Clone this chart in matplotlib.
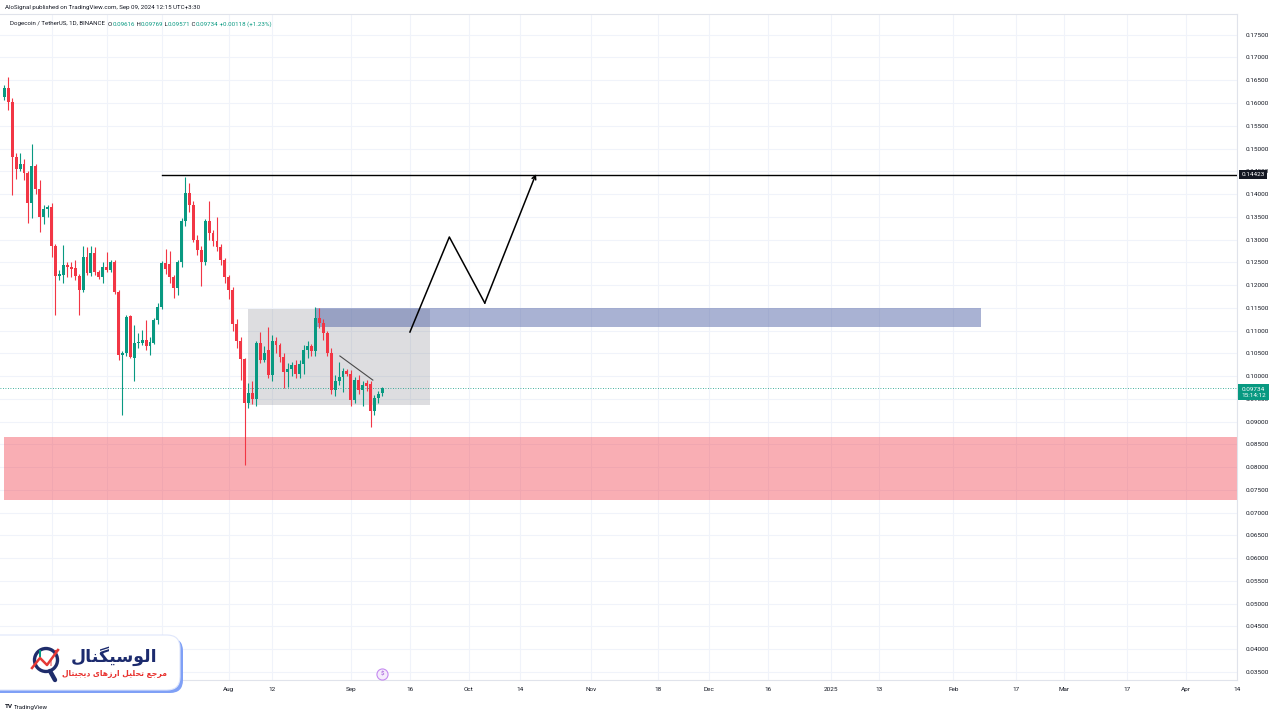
import matplotlib
matplotlib.use('Agg')
import matplotlib.pyplot as plt
import matplotlib.dates as mdates
import matplotlib.transforms as mtransforms
from matplotlib.patches import Rectangle, FancyBboxPatch, Circle
import numpy as np
import pandas as pd

plt.rcParams['font.family'] = ['Roboto', 'DejaVu Sans']

# DOGE/USDT daily candles
dates = pd.date_range('2024-06-05', periods=97)
opens = [0.1614, 0.1632, 0.1602, 0.1481, 0.1456, 0.1466, 0.1446, 0.1380, 0.1462, 0.1410,
         0.1349, 0.1366, 0.1371, 0.1286, 0.1220, 0.1222, 0.1244, 0.1240, 0.1237, 0.1220,
         0.1189, 0.1261, 0.1227, 0.1270, 0.1229, 0.1217, 0.1240, 0.1233, 0.1251, 0.1184,
         0.1046, 0.1050, 0.1132, 0.1039, 0.1073, 0.1073, 0.1079, 0.1065, 0.1073, 0.1122,
         0.1152, 0.1248, 0.1246, 0.1217, 0.1193, 0.1251, 0.1341, 0.1402, 0.1376, 0.1300,
         0.1277, 0.1251, 0.1341, 0.1314, 0.1297, 0.1283, 0.1254, 0.1217, 0.1188, 0.1114,
         0.1077, 0.1037, 0.0940, 0.0962, 0.0950, 0.1073, 0.1035, 0.1057, 0.1002, 0.1078,
         0.1068, 0.1042, 0.1008, 0.1015, 0.1024, 0.1005, 0.1026, 0.1057, 0.1066, 0.1055,
         0.1127, 0.1117, 0.1094, 0.1050, 0.0969, 0.0990, 0.0998, 0.1010, 0.1005, 0.0947,
         0.0991, 0.0969, 0.0984, 0.0982, 0.0922, 0.0952, 0.09616]
highs = [0.1640, 0.1658, 0.1610, 0.1490, 0.1491, 0.1478, 0.1450, 0.1510, 0.1465, 0.1431,
         0.1376, 0.1375, 0.1381, 0.1290, 0.1232, 0.1288, 0.1250, 0.1250, 0.1254, 0.1224,
         0.1285, 0.1284, 0.1285, 0.1284, 0.1232, 0.1250, 0.1273, 0.1255, 0.1256, 0.1188,
         0.1055, 0.1135, 0.1135, 0.1112, 0.1094, 0.1101, 0.1122, 0.1085, 0.1128, 0.1160,
         0.1252, 0.1279, 0.1275, 0.1222, 0.1256, 0.1348, 0.1438, 0.1425, 0.1385, 0.1310,
         0.1285, 0.1345, 0.1385, 0.1320, 0.1349, 0.1290, 0.1260, 0.1222, 0.1195, 0.1125,
         0.1085, 0.1040, 0.0985, 0.0990, 0.1078, 0.1097, 0.1066, 0.1108, 0.1090, 0.1085,
         0.1072, 0.1050, 0.1028, 0.1030, 0.1035, 0.1035, 0.1068, 0.1078, 0.1070, 0.1152,
         0.1150, 0.1125, 0.1100, 0.1062, 0.1002, 0.1030, 0.1018, 0.1015, 0.1013, 0.0998,
         0.1002, 0.0988, 0.0992, 0.0988, 0.0958, 0.0966, 0.09769]
lows = [0.1606, 0.1585, 0.1398, 0.1434, 0.1450, 0.1431, 0.1336, 0.1347, 0.1400, 0.1317,
        0.1334, 0.1350, 0.1262, 0.1134, 0.1212, 0.1205, 0.1218, 0.1217, 0.1212, 0.1135,
        0.1185, 0.1222, 0.1220, 0.1222, 0.1213, 0.1204, 0.1228, 0.1228, 0.1180, 0.1036,
        0.0914, 0.1045, 0.1040, 0.0988, 0.1062, 0.1068, 0.1058, 0.1046, 0.1070, 0.1115,
        0.1148, 0.1225, 0.1205, 0.1171, 0.1178, 0.1240, 0.1330, 0.1360, 0.1295, 0.1265,
        0.1198, 0.1245, 0.1300, 0.1285, 0.1275, 0.1245, 0.1205, 0.1170, 0.1100, 0.1062,
        0.0991, 0.0804, 0.0930, 0.0938, 0.0934, 0.1028, 0.1030, 0.0995, 0.0990, 0.1050,
        0.1030, 0.0973, 0.0975, 0.1000, 0.0995, 0.0995, 0.1005, 0.1040, 0.1045, 0.1045,
        0.1105, 0.1080, 0.1045, 0.0960, 0.0955, 0.0980, 0.0965, 0.1000, 0.0935, 0.0940,
        0.0960, 0.0935, 0.0968, 0.0889, 0.0915, 0.0940, 0.09571]
closes = [0.1632, 0.1603, 0.1481, 0.1456, 0.1466, 0.1446, 0.1380, 0.1462, 0.1410, 0.1349,
          0.1366, 0.1371, 0.1286, 0.1220, 0.1224, 0.1244, 0.1239, 0.1236, 0.1220, 0.1189,
          0.1261, 0.1227, 0.1270, 0.1228, 0.1217, 0.1240, 0.1233, 0.1251, 0.1184, 0.1046,
          0.1050, 0.1130, 0.1042, 0.1073, 0.1075, 0.1079, 0.1065, 0.1075, 0.1122, 0.1152,
          0.1248, 0.1235, 0.1217, 0.1194, 0.1251, 0.1341, 0.1402, 0.1376, 0.1300, 0.1277,
          0.1251, 0.1341, 0.1314, 0.1297, 0.1283, 0.1254, 0.1217, 0.1188, 0.1114, 0.1077,
          0.1037, 0.0940, 0.0962, 0.0950, 0.1073, 0.1035, 0.1051, 0.1002, 0.1078, 0.1068,
          0.1042, 0.1008, 0.1015, 0.1024, 0.1005, 0.1026, 0.1057, 0.1066, 0.1055, 0.1127,
          0.1117, 0.1094, 0.1050, 0.0969, 0.0990, 0.0998, 0.1010, 0.1005, 0.0947, 0.0991,
          0.0969, 0.0980, 0.0978, 0.0922, 0.0952, 0.0961, 0.09734]

price_ticks = np.round(np.arange(0.035, 0.17501, 0.005), 3)
tick_dates = ['2024-06-17', '2024-07-01', '2024-07-15', '2024-08-01', '2024-08-12', '2024-09-01',
              '2024-09-16', '2024-10-01', '2024-10-14', '2024-11-01', '2024-11-18', '2024-12-01',
              '2024-12-16', '2025-01-01', '2025-01-13', '2025-02-01', '2025-02-17', '2025-03-01',
              '2025-03-17', '2025-04-01', '2025-04-14']
tick_labels = ['17', 'Jul', '15', 'Aug', '12', 'Sep', '16', 'Oct', '14', 'Nov', '18', 'Dec',
               '16', '2025', '13', 'Feb', '17', 'Mar', '17', 'Apr', '14']

# drawings
resistance = 0.14423
resistance_start = '2024-07-15'
last_price = 0.09734
support_zone = (0.0727, 0.0866)
supply_zone = ('2024-08-23', '2025-02-08', 0.11077, 0.11495)
range_box = ('2024-08-06', '2024-09-21', 0.0936, 0.1147)
trend_dates = ['2024-08-29 05:00', '2024-09-06 14:00']
trend_prices = [0.1044, 0.0991]
path_dates = ['2024-09-16', '2024-09-26', '2024-10-05', '2024-10-18']
path_prices = [0.10967, 0.13055, 0.11604, 0.14440]

green = '#089981'
red = '#f23645'
text_col = '#131722'
grid_col = '#f0f3fa'

fig = plt.figure(figsize=(12.8, 7.2), dpi=100)
ax = fig.add_axes([0, 40 / 720, 1237 / 1280, 666 / 720])

x = mdates.date2num(dates)
x0 = x[0]
ax.set_xlim(x0 - 1.09, x0 + 312.9)
ax.set_ylim(0.03319, 0.17956)

ax.set_yticks(price_ticks)
ax.set_yticklabels(['%.5f' % p for p in price_ticks])
ax.yaxis.tick_right()
ax.set_xticks(mdates.date2num(pd.to_datetime(tick_dates)))
ax.set_xticklabels(tick_labels)
ax.tick_params(axis='y', length=0, pad=6, labelsize=4.6, labelcolor=text_col)
ax.tick_params(axis='x', length=0, pad=5, labelsize=4.6, labelcolor=text_col)
ax.grid(color=grid_col, lw=0.8)
ax.set_axisbelow(True)
for side, spine in ax.spines.items():
    spine.set_color('#e0e3eb')
    spine.set_linewidth(0.8)
ax.spines['left'].set_visible(False)

# zones
ax.add_patch(Rectangle((x0 - 0.2, support_zone[0]), 400, support_zone[1] - support_zone[0],
                       fc=red, alpha=0.4, ec='none', zorder=1))
rb0, rb1 = mdates.date2num(pd.to_datetime(range_box[:2]))
ax.add_patch(Rectangle((rb0, range_box[2]), rb1 - rb0, range_box[3] - range_box[2],
                       fc='#787b86', alpha=0.25, ec='none', zorder=1))
sz0, sz1 = mdates.date2num(pd.to_datetime(supply_zone[:2]))
ax.add_patch(Rectangle((sz0, supply_zone[2]), sz1 - sz0, supply_zone[3] - supply_zone[2],
                       fc='#5567a8', alpha=0.5, ec='none', zorder=1.5))

# candles
o = np.array(opens)
c = np.array(closes)
colors = [green if cc >= oo else red for oo, cc in zip(o, c)]
ax.vlines(x, lows, highs, colors=colors, lw=0.8, zorder=3)
body = np.maximum(np.abs(c - o), 0.00012)
ax.bar(x, body, bottom=np.minimum(o, c), width=0.74, color=colors, zorder=4)

# lines
ax.plot([mdates.date2num(pd.Timestamp(resistance_start)), x0 + 400], [resistance, resistance],
        color='black', lw=1.0, zorder=5)
ax.axhline(last_price, color=green, lw=0.6, ls=(0, (1, 2)), zorder=2)
tx = mdates.date2num(pd.to_datetime(trend_dates))
ax.plot(tx, trend_prices, color='#4a4a4a', lw=0.8, zorder=5)
px = mdates.date2num(pd.to_datetime(path_dates))
ax.plot(px[:3], path_prices[:3], color='black', lw=1.1, zorder=5)
ax.annotate('', xy=(px[3], path_prices[3]), xytext=(px[2], path_prices[2]),
            arrowprops=dict(arrowstyle='->', lw=1.1, color='black', shrinkA=0, shrinkB=0,
                            mutation_scale=7), zorder=5)

# price labels on the axis
blend = mtransforms.blended_transform_factory(ax.transAxes, ax.transData)
ax.text(1.0035, resistance, '%.5f' % resistance, transform=blend, fontsize=4.6, color='white',
        va='center', ha='left', clip_on=False, zorder=6,
        bbox=dict(boxstyle='square,pad=0.3', fc=text_col, ec='none'))
ax.text(1.0035, last_price - 0.0009, '%.5f\n15:14:12' % last_price, transform=blend, fontsize=4.6,
        color='white', va='center', ha='left', clip_on=False, zorder=6, linespacing=1.15,
        bbox=dict(boxstyle='square,pad=0.45', fc=green, ec='none'))

# event marker near the time axis
eblend = mtransforms.blended_transform_factory(ax.transData, ax.transAxes)
ax.plot([x[-1]], [0.009], transform=eblend, marker='o', ms=8, mfc='#f5ecfc', mec='#c58af0',
        mew=0.8, clip_on=False, zorder=6)
ax.text(x[-1], 0.009, '$', transform=eblend, fontsize=4.5, color='#9c4fd6', ha='center',
        va='center', clip_on=False, zorder=7)

# overlay in pixel coordinates
ov = fig.add_axes([0, 0, 1, 1], zorder=10)
ov.set_xlim(0, 1280)
ov.set_ylim(720, 0)
ov.axis('off')
ov.patch.set_alpha(0)

ov.text(5, 8, 'AloSignal published on TradingView.com, Sep 09, 2024 12:15 UTC+3:30',
        fontsize=4.4, color=text_col, va='center', ha='left')
renderer = fig.canvas.get_renderer()
pieces = [('Dogecoin / TetherUS, 1D, BINANCE  ', text_col), ('O', text_col), ('0.09616', green),
          (' H', text_col), ('0.09769', green), (' L', text_col), ('0.09571', green),
          (' C', text_col), ('0.09734', green), (' +0.00118 (+1.23%)', green)]
xpos = 10
for s, col in pieces:
    t = ov.text(xpos, 24, s, fontsize=4.4, color=col, va='center', ha='left')
    xpos += t.get_window_extent(renderer).width

ov.text(5, 707, 'TV', fontsize=4.6, fontweight='bold', color=text_col, va='center', ha='left')
ov.text(14, 707, 'TradingView', fontsize=4.4, color=text_col, va='center', ha='left')

# logo box
ov.add_patch(FancyBboxPatch((-20, 638), 203, 55, boxstyle='round,pad=0,rounding_size=13',
                            fc='#7fa0f6', ec='none'))
ov.add_patch(FancyBboxPatch((-22, 635), 202, 55, boxstyle='round,pad=0,rounding_size=13',
                            fc='white', ec='#dfe6fb', lw=0.8))
ov.add_patch(Circle((46, 660), 11.5, fill=False, ec='#1f2d6b', lw=2.4))
ov.plot([50, 55], [671, 680], color='#1f2d6b', lw=3.2, solid_capstyle='round')
ov.add_patch(Rectangle((39, 650), 2.2, 7, fc=green, ec='none'))
ov.add_patch(Rectangle((50, 660), 2.2, 6, fc='#f4a0a0', ec='none'))
ov.annotate('', xy=(60, 648), xytext=(32, 668),
            arrowprops=dict(arrowstyle='-|>', color='#e53935', lw=0, mutation_scale=6))
ov.plot([32, 40, 47, 58], [668, 658, 665, 650], color='#e53935', lw=1.8)

FORMS = {
    'ا': ('\uFE8D', '\uFE8E', None, None),
    'ل': ('\uFEDD', '\uFEDE', '\uFEDF', '\uFEE0'),
    'و': ('\uFEED', '\uFEEE', None, None),
    'س': ('\uFEB1', '\uFEB2', '\uFEB3', '\uFEB4'),
    'ی': ('\uFBFC', '\uFBFD', '\uFBFE', '\uFBFF'),
    'گ': ('\uFB92', '\uFB93', '\uFB94', '\uFB95'),
    'ن': ('\uFEE5', '\uFEE6', '\uFEE7', '\uFEE8'),
    'م': ('\uFEE1', '\uFEE2', '\uFEE3', '\uFEE4'),
    'ر': ('\uFEAD', '\uFEAE', None, None),
    'ج': ('\uFE9D', '\uFE9E', '\uFE9F', '\uFEA0'),
    'ع': ('\uFEC9', '\uFECA', '\uFECB', '\uFECC'),
    'ت': ('\uFE95', '\uFE96', '\uFE97', '\uFE98'),
    'ح': ('\uFEA1', '\uFEA2', '\uFEA3', '\uFEA4'),
    'ز': ('\uFEAF', '\uFEB0', None, None),
    'ه': ('\uFEE9', '\uFEEA', '\uFEEB', '\uFEEC'),
    'د': ('\uFEA9', '\uFEAA', None, None),
}


def shape(text):
    # tiny arabic shaper: pick joined forms, then reverse for left-to-right drawing
    out = []
    for i, ch in enumerate(text):
        if ch not in FORMS:
            out.append(ch)
            continue
        iso, fin, ini, med = FORMS[ch]
        prev = text[i - 1] if i > 0 else None
        nxt = text[i + 1] if i < len(text) - 1 else None
        jp = prev in FORMS and FORMS[prev][2] is not None
        jn = nxt in FORMS and ini is not None
        if jp and jn:
            out.append(med)
        elif jp:
            out.append(fin)
        elif jn:
            out.append(ini)
        else:
            out.append(iso)
    return ''.join(reversed(out))


ov.text(114, 656, shape('الوسیگنال'), family='DejaVu Sans', fontsize=12.5, fontweight='bold',
        color='#1c2b6e', ha='center', va='center')
ov.text(114, 674, shape('مرجع تحلیل ارزهای دیجیتال'), family='DejaVu Sans', fontsize=5.5,
        fontweight='bold', color='#e8322f', ha='center', va='center')

fig.savefig('out.png', dpi=100, facecolor='white')
